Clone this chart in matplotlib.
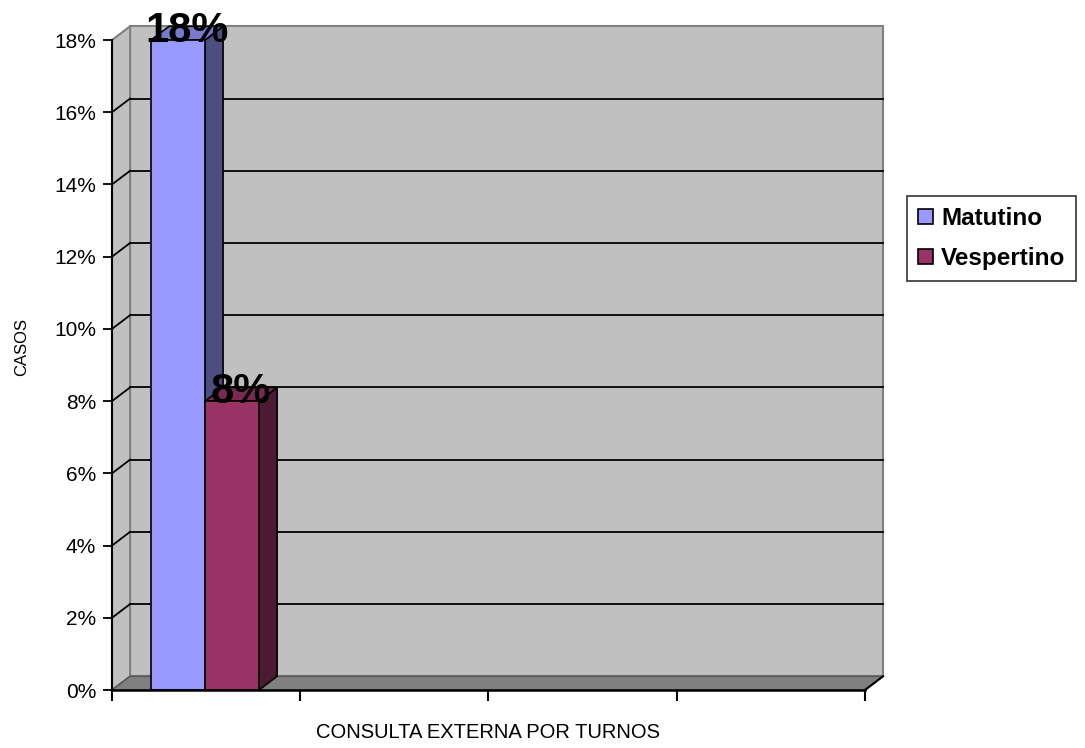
import matplotlib.pyplot as plt
from matplotlib.patches import Polygon, Rectangle, Patch


# data ##################
series = ["Matutino", "Vespertino"]
values = [18, 8]          # percent
y_ticks = [0, 2, 4, 6, 8, 10, 12, 14, 16, 18]
x_ticks = [0, 1, 2, 3, 4]
x_label = "CONSULTA EXTERNA POR TURNOS"
y_label = "CASOS"
#########################

front_colors = ["#9999FF", "#993366"]
top_colors = ["#7A7ACC", "#7A2952"]
side_colors = ["#4D4D80", "#4D1A33"]

# depth of the pseudo 3d box, in data units
DX = 0.096
DY = 0.38
BAR_W = 0.287
GROUP_LEFT = 0.207

plt.rcParams["font.family"] = ["Liberation Sans", "DejaVu Sans"]

fig = plt.figure(figsize=(10.85, 7.48), dpi=100)
ax = fig.add_axes([112 / 1085, 58 / 748, 771.8 / 1085, 666.2 / 748])
ax.set_xlim(0, 4.1)
ax.set_ylim(0, 18.45)

y_top = max(y_ticks)
x_end = max(x_ticks)

# back wall
ax.add_patch(Rectangle((DX, DY), x_end, y_top, facecolor="#C0C0C0",
                       edgecolor="#808080", linewidth=1.5, zorder=1, clip_on=False))
# left side wall
ax.add_patch(Polygon([(0, 0), (DX, DY), (DX, y_top + DY), (0, y_top)],
                     facecolor="#C0C0C0", edgecolor="#808080", linewidth=1.5,
                     zorder=1, clip_on=False))

# gridlines on the wall plus the diagonal on the side wall
for t in y_ticks[1:-1]:
    ax.plot([DX, x_end + DX], [t + DY, t + DY], color="black", linewidth=1.3, zorder=2)
    ax.plot([0, DX], [t, t + DY], color="black", linewidth=1.3, zorder=2)

# floor
ax.add_patch(Polygon([(0, 0), (x_end, 0), (x_end + DX, DY), (DX, DY)],
                     facecolor="#808080", edgecolor="#5A5A5A", linewidth=1.2,
                     zorder=3, clip_on=False))
ax.plot([x_end, x_end + DX], [0, DY], color="black", linewidth=1.5, zorder=4,
        clip_on=False)

# bars
for i, (name, v) in enumerate(zip(series, values)):
    x0 = GROUP_LEFT + i * BAR_W
    x1 = x0 + BAR_W
    ax.add_patch(Polygon([(x1, 0), (x1 + DX, DY), (x1 + DX, v + DY), (x1, v)],
                         facecolor=side_colors[i], edgecolor="black",
                         linewidth=1.2, zorder=5 + i, clip_on=False))
    ax.add_patch(Polygon([(x0, v), (x1, v), (x1 + DX, v + DY), (x0 + DX, v + DY)],
                         facecolor=top_colors[i], edgecolor="black",
                         linewidth=1.2, zorder=5 + i, clip_on=False))
    ax.add_patch(Rectangle((x0, 0), BAR_W, v, facecolor=front_colors[i],
                           edgecolor="black", linewidth=1.2, zorder=5 + i,
                           clip_on=False))
    ax.text(x0 + BAR_W / 2 + DX / 2, v - 0.05, f"{v}%", ha="center", va="baseline",
            fontsize=30, fontweight="bold", zorder=10, clip_on=False)

# axes
for s in ["top", "right"]:
    ax.spines[s].set_visible(False)
ax.spines["left"].set_bounds(0, y_top)
ax.spines["bottom"].set_bounds(0, x_end)
ax.spines["left"].set_linewidth(1.5)
ax.spines["bottom"].set_linewidth(1.8)
ax.spines["left"].set_zorder(8)
ax.spines["bottom"].set_zorder(8)

ax.set_yticks(y_ticks)
ax.set_yticklabels([f"{t}%" for t in y_ticks])
ax.set_xticks(x_ticks)
ax.set_xticklabels([])
ax.tick_params(axis="y", direction="out", length=6.5, width=1.3, pad=5, labelsize=15)
ax.tick_params(axis="x", direction="out", length=8, width=1.5)

fig.text(488 / 1085, 1 - 733 / 748, x_label, ha="center", va="center", fontsize=14.5)
fig.text(22 / 1085, 1 - 347 / 748, y_label, ha="center", va="center",
         rotation=90, fontsize=12)

handles = [Patch(facecolor=c, edgecolor="black", linewidth=1.2) for c in front_colors]
leg = fig.legend(handles, series, loc="upper left",
                 bbox_to_anchor=(907 / 1085, 1 - 196 / 748),
                 prop={"size": 17.5, "weight": "bold"}, frameon=True, fancybox=False,
                 handlelength=0.6, handleheight=0.6, handletextpad=0.35,
                 borderpad=0.45, labelspacing=0.7, borderaxespad=0)
leg.get_frame().set_edgecolor("black")
leg.get_frame().set_linewidth(1.2)

fig.savefig("out.png", dpi=100)
